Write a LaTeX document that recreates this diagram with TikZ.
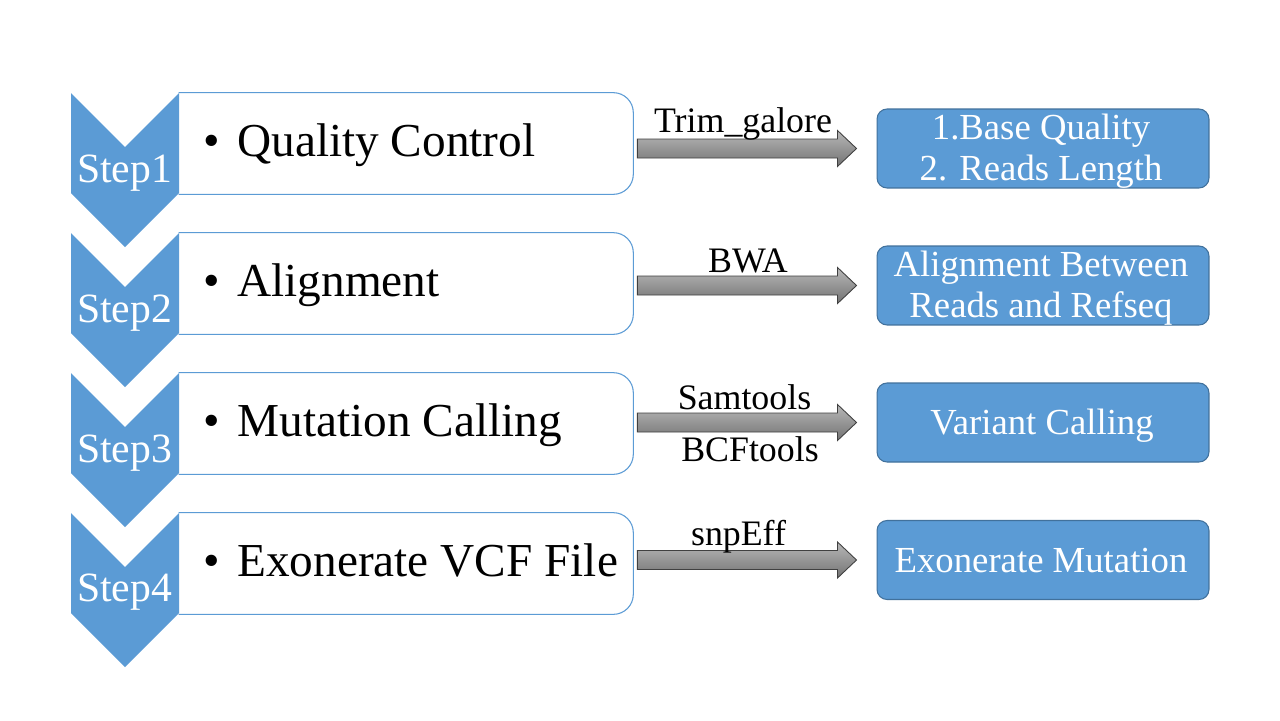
\documentclass[tikz,border=0pt]{standalone}
\usepackage{fontspec}
\setmainfont{Liberation Serif}
\usetikzlibrary{calc}
\definecolor{accent}{HTML}{5B9BD5}
\definecolor{accentdark}{HTML}{41719C}
\newcommand\blockarrow[2]{%
  \draw[garrow] ($(#1)+(0,-9.5)$) -- ($(#2)+(-19,-9.5)$) -- ($(#2)+(-19,-18)$) -- (#2)
     -- ($(#2)+(-19,18)$) -- ($(#2)+(-19,9.5)$) -- ($(#1)+(0,9.5)$) -- cycle;}
\begin{document}
\begin{tikzpicture}[x=0.02cm,y=-0.02cm,
  chev/.style={fill=accent},
  wbox/.style={draw=none,fill=white,minimum width=9.08cm,minimum height=2.02cm,inner sep=0},
  wborder/.style={draw=accent,line width=0.6pt,rounded corners=0.4cm},
  steplabel/.style={text=white,font=\fontsize{23.7}{28}\selectfont,anchor=base,inner sep=0},
  itemtext/.style={font=\fontsize{26.9}{32}\selectfont,anchor=base west,inner sep=0},
  bbox/.style={draw=accentdark,fill=accent,line width=0.6pt,rounded corners=0.2cm,
    minimum width=6.64cm,minimum height=1.58cm,inner sep=0},
  btext/.style={text=white,font=\fontsize{20.9}{25}\selectfont,anchor=base,inner sep=0},
  tool/.style={font=\fontsize{20.4}{24}\selectfont,anchor=base,inner sep=0},
  garrow/.style={draw=black!75,line width=0.5pt,top color=black!28,bottom color=black!55},
]
\fill[white] (0,0) rectangle (1280,720);
\useasboundingbox (0,0) rectangle (1280,720);

% white boxes
\node[wbox] (w1) at (406,143.5) {};
\node[wbox] (w2) at (406,283.5) {};
\node[wbox] (w3) at (406,423.5) {};
\node[wbox] (w4) at (406,563.5) {};
\foreach \k in {1,...,4}{
  \draw[wborder] (w\k.north west) -- (w\k.north east) -- (w\k.south east) -- (w\k.south west);
}

% chevrons
\foreach \T in {93,233,373,513}{
  \fill[chev] (71,\T) -- (125,\T+54) -- (179,\T) -- (179,\T+100) -- (125,\T+154) -- (71,\T+100) -- cycle;
}

% step labels
\node[steplabel] (s1) at (124.5,182) {Step1};
\node[steplabel] (s2) at (124.5,322) {Step2};
\node[steplabel] (s3) at (124.5,462) {Step3};
\node[steplabel] (s4) at (124.5,601) {Step4};

% item texts
\node[itemtext] (t1) at (203,156) {•\hspace{0.35cm}Quality Control};
\node[itemtext] (t2) at (203,296) {•\hspace{0.35cm}Alignment};
\node[itemtext] (t3) at (203,436) {•\hspace{0.35cm}Mutation Calling};
\node[itemtext] (t4) at (203,576) {•\hspace{0.35cm}Exonerate VCF File};

% blue result boxes
\node[bbox] (b1) at (1043,148.5) {};
\node[bbox] (b2) at (1043,285.5) {};
\node[bbox] (b3) at (1043,422.5) {};
\node[bbox] (b4) at (1043,560) {};
\node[btext] (bt1a) at (1041,139) {1.Base Quality};
\node[btext] (bt1b) at (1041,180) {2. Reads Length};
\node[btext] (bt2a) at (1041,276) {Alignment Between};
\node[btext] (bt2b) at (1041,317) {Reads and Refseq};
\node[btext] (bt3) at (1042,434.5) {Variant Calling};
\node[btext] (bt4) at (1041,572) {Exonerate Mutation};

% block arrows
\foreach \k in {1,...,4}{
  \path (b\k.west) ++(-20,0) coordinate (e\k);
  \path (w\k.east |- b\k.west) ++(4,0) coordinate (o\k);
  \blockarrow{o\k}{e\k}
}

% tool labels
\node[tool] (l1) at (743,132) {Trim\_galore};
\node[tool] (l2) at (748,272) {BWA};
\node[tool] (l3a) at (744.5,409) {Samtools};
\node[tool] (l3b) at (750,461) {BCFtools};
\node[tool] (l4) at (738.5,545) {snpEff};
\end{tikzpicture}
\end{document}
